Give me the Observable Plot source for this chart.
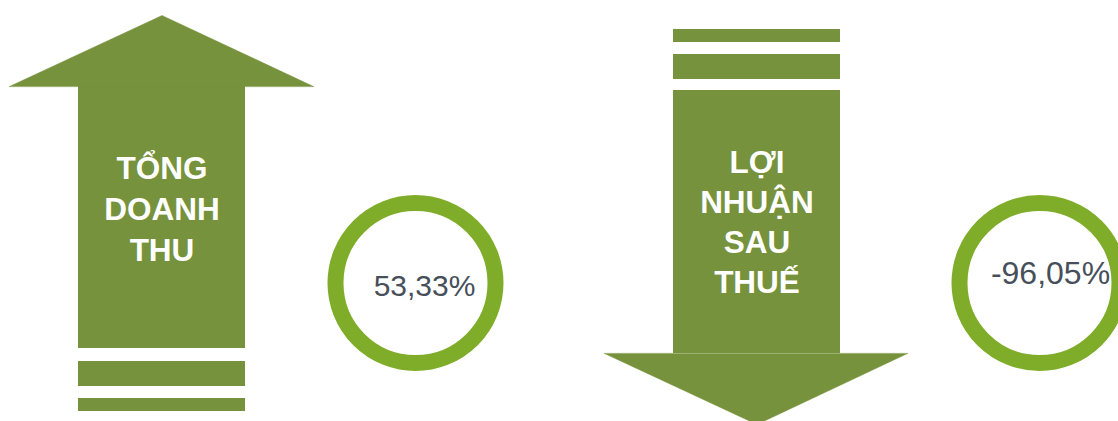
<!DOCTYPE html>
<html>
<head>
<meta charset="utf-8">
<script src="https://cdn.jsdelivr.net/npm/d3@7"></script>
<script src="https://cdn.jsdelivr.net/npm/@observablehq/plot@0.6"></script>
<style>
  html, body { margin: 0; padding: 0; background: #ffffff; }
  #chart svg { display: block; }
</style>
</head>
<body>
<div id="chart"></div>
<script>
// ---- data ----
const categories = ["TỔNG\nDOANH\nTHU", "LỢI\nNHUẬN\nSAU\nTHUẾ"];
const changes = [53.33, -96.05];

// ---- layout (pixel geometry of each panel) ----
const W = 1118, H = 421;
const arrowColor = "#77923c";
const ringColor = "#80ad29";
const textColor = "#474f5a";
const panels = [
  { cx: 161.5, x1: 78, x2: 245, headL: 9, headR: 313, shaftTop: 86, shaftBot: 348,
    tip: 15, bars: [[361, 386], [398, 411]], labelY: 149, lineH: 41/31.5,
    ringX: 415, ringY: 282.5, pctX: 424, pctY: 285.5, pctSize: 30 },
  { cx: 756.5, x1: 673, x2: 840, headL: 604, headR: 907, shaftTop: 90, shaftBot: 353,
    tip: 424, bars: [[29, 42], [54, 79]], labelY: 144, lineH: 40/31.5,
    ringX: 1039, ringY: 282.5, pctX: 1050, pctY: 273, pctSize: 32 }
];

const fmt = v => v.toFixed(2).replace(".", ",") + "%";

const rows = categories.map((c, i) => ({ label: c, value: changes[i], ...panels[i] }));

const shafts = rows.map(r => ({ x1: r.x1, x2: r.x2, y1: r.shaftTop, y2: r.shaftBot }));
const bars = rows.flatMap(r => r.bars.map(b => ({ x1: r.x1, x2: r.x2, y1: b[0], y2: b[1] })));
const heads = rows.flatMap((r, i) => {
  const base = r.value >= 0 ? r.shaftTop : r.shaftBot;
  return [
    { id: i, x: r.headL, y: base },
    { id: i, x: r.cx, y: r.tip },
    { id: i, x: r.headR, y: base }
  ];
});

const font = "'Liberation Sans', Arial, Helvetica, sans-serif";

const chart = Plot.plot({
  width: W,
  height: H,
  margin: 0,
  x: { domain: [0, W], range: [0, W], axis: null },
  y: { domain: [0, H], range: [0, H], axis: null },
  style: { fontFamily: font, background: "#ffffff" },
  marks: [
    Plot.rect(shafts, { x1: "x1", x2: "x2", y1: "y1", y2: "y2", fill: arrowColor }),
    Plot.rect(bars, { x1: "x1", x2: "x2", y1: "y1", y2: "y2", fill: arrowColor }),
    Plot.line(heads, { x: "x", y: "y", z: "id", fill: arrowColor, stroke: arrowColor, strokeWidth: 0.5, curve: "linear-closed" }),
    ...rows.map(r => Plot.text([r], {
      x: "cx", y: "labelY", text: "label", fill: "white", fontSize: 31.5, fontWeight: "bold",
      lineAnchor: "top", lineHeight: r.lineH, textAnchor: "middle"
    })),
    Plot.dot(rows, { x: "ringX", y: "ringY", r: 80, stroke: ringColor, strokeWidth: 16, fill: "white" }),
    ...rows.map(r => Plot.text([r], {
      x: "pctX", y: "pctY", text: d => fmt(d.value), fill: textColor, fontSize: r.pctSize,
      textAnchor: "middle", lineAnchor: "middle"
    }))
  ]
});

document.getElementById("chart").appendChild(chart);
</script>
</body>
</html>
